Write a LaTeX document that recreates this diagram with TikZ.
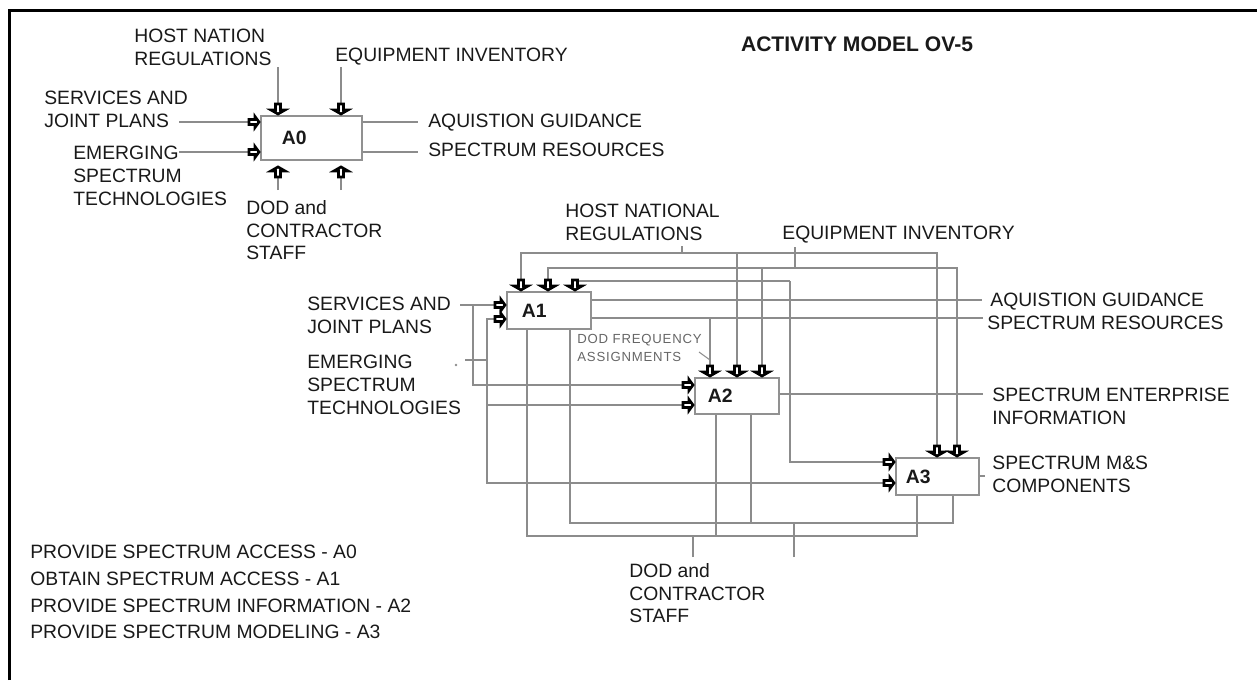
\documentclass[tikz,border=0pt]{standalone}
\usepackage{fontspec}
\setmainfont{Liberation Sans}
\newfontfamily\spacedfont{Liberation Sans}[LetterSpace=6]
\usetikzlibrary{calc,decorations.markings}

\definecolor{linegray}{RGB}{140,140,140}
\definecolor{boxgray}{RGB}{145,145,145}
\definecolor{textgray}{RGB}{25,25,25}
\newlength\pxunit
\setlength\pxunit{0.02cm}

\tikzset{
  lbl/.style={anchor=north west, inner sep=0pt, align=left, text=textgray,
    font=\fontsize{11}{12.9}\selectfont},
  procbox/.style={draw=boxgray, line width=1.1pt, fill=white, anchor=north west,
    inner ysep=0pt, align=left, text=textgray,
    font=\fontsize{11}{13}\selectfont\bfseries},
  flow/.style={draw=linegray, line width=1pt},
  blockhead/.style={flow, postaction={decorate, decoration={markings,
    mark=at position 1 with {\draw[black, line width=1.5pt, fill=white, line join=miter]
      (-1,0) -- (-5,#1) -- (-5,2.5) -- (-11,2.5) -- (-11,-2.5) -- (-5,-2.5) -- (-5,-#1) -- cycle;}}}},
  inp/.style={blockhead=5.5},
  ctl/.style={blockhead=7},
}

\begin{document}
\begin{tikzpicture}[x=0.02cm, y=-0.02cm]
\useasboundingbox (0,0) rectangle (1257,680);
\draw[line width=1.5pt] (9.5,680) -- (9.5,10.5) -- (1257,10.5);

% activity boxes
\node[procbox, minimum height=44\pxunit, inner xsep=21\pxunit, text width=59\pxunit] (a0) at (260,115) {A0};
\node[procbox, minimum height=37\pxunit, inner xsep=15\pxunit, text width=54\pxunit] (a1) at (506,291) {A1};
\node[procbox, minimum height=36\pxunit, inner xsep=13\pxunit, text width=58\pxunit] (a2) at (694,377) {A2};
\node[procbox, minimum height=37\pxunit, inner xsep=10\pxunit, text width=63\pxunit] (a3) at (895,457) {A3};

% labels, top level
\node[font=\fontsize{12}{14}\selectfont\bfseries, text=textgray] (title) at (857,44) {ACTIVITY MODEL OV-5};
\node[lbl] (hn0) at (134,29) {HOST NATION\\REGULATIONS};
\node[lbl] (eq0) at (335,48) {EQUIPMENT INVENTORY};
\node[lbl] (srv0) at (44,91) {SERVICES AND\\JOINT PLANS};
\node[lbl] (em0) at (73,146) {EMERGING\\SPECTRUM\\TECHNOLOGIES};
\node[lbl] (aq0) at (428,114) {AQUISTION GUIDANCE};
\node[lbl] (sr0) at (428,143) {SPECTRUM RESOURCES};
\node[lbl] (dod0) at (246,200) {DOD and\\CONTRACTOR\\STAFF};

% labels, decomposition
\node[lbl] (hn1) at (565,204) {HOST NATIONAL\\REGULATIONS};
\node[lbl] (eq1) at (782,226) {EQUIPMENT INVENTORY};
\node[lbl] (srv1) at (307,297) {SERVICES AND\\JOINT PLANS};
\node[lbl] (em1) at (307,355) {EMERGING\\SPECTRUM\\TECHNOLOGIES};
\node[lbl, font=\spacedfont\fontsize{7.5}{10.2}\selectfont, text=black!60] (dfa) at (577,334) {DOD FREQUENCY\\ASSIGNMENTS};
\node[lbl] (aq1) at (990,293) {AQUISTION GUIDANCE};
\node[lbl] (sr1) at (987,316) {SPECTRUM RESOURCES};
\node[lbl] (sei) at (992,388) {SPECTRUM ENTERPRISE\\INFORMATION};
\node[lbl] (msc) at (992,456) {SPECTRUM M\&S\\COMPONENTS};
\node[lbl] (dod1) at (629,563) {DOD and\\CONTRACTOR\\STAFF};
\node[lbl, font=\fontsize{11}{15.2}\selectfont] (legend) at (30,545)
  {PROVIDE SPECTRUM ACCESS - A0\\OBTAIN SPECTRUM ACCESS - A1\\PROVIDE SPECTRUM INFORMATION - A2\\PROVIDE SPECTRUM MODELING - A3};

% A0 connectors
\coordinate (hn0x) at (278,67);
\coordinate (eq0x) at (341,67);
\coordinate (srv0x) at (179,122);
\coordinate (em0x) at (179,152);
\coordinate (aq0x) at (418,122);
\coordinate (sr0x) at (418,152);
\coordinate (dod0a) at (278,190);
\coordinate (dod0b) at (341,190);
\draw[ctl] (hn0x) -- (hn0x |- a0.north);
\draw[ctl] (eq0x) -- (eq0x |- a0.north);
\draw[inp] (srv0x) -- (srv0x -| a0.west);
\draw[inp] (em0x) -- (em0x -| a0.west);
\draw[flow] (aq0x -| a0.east) -- (aq0x);
\draw[flow] (sr0x -| a0.east) -- (sr0x);
\draw[ctl] (dod0a) -- ([yshift=-5\pxunit]dod0a |- a0.south);
\draw[ctl] (dod0b) -- ([yshift=-5\pxunit]dod0b |- a0.south);

% controls of A1, A2, A3
\coordinate (hn1x) at (682,246);
\coordinate (hnbus) at (682,253);
\coordinate (eq1x) at (795,247);
\coordinate (eqbus) at (795,268);
\coordinate (fbk) at (790,281);
\draw[flow] (hn1x) -- (hnbus);
\draw[flow] (eq1x) -- (eqbus);
\draw[ctl] (hnbus) -| ([xshift=15\pxunit]a1.north west);
\draw[ctl] (hnbus) -| ([xshift=43\pxunit]a2.north west);
\draw[ctl] (hnbus) -| ([xshift=42\pxunit]a3.north west);
\draw[ctl] (eqbus) -| ([xshift=42\pxunit]a1.north west);
\draw[ctl] (eqbus) -| ([xshift=68\pxunit]a2.north west);
\draw[ctl] (eqbus) -| ([xshift=62\pxunit]a3.north west);
\draw[ctl] (fbk) -| ([xshift=69\pxunit]a1.north west);
\draw[inp] (fbk) |- ([yshift=-5\pxunit]a3.north west);

% inputs
\coordinate (srv1x) at (460,305);
\coordinate (srvbus) at (473,305);
\coordinate (em1x) at (465,360);
\coordinate (embus) at (487,360);
\draw[inp] (srv1x) -- ([yshift=-14\pxunit]a1.north west);
\draw[inp] (srvbus) |- ([yshift=-8\pxunit]a2.north west);
\draw[flow] (em1x) -- (embus);
\fill[linegray] (456,365) circle (0.8pt);
\draw[inp] (embus) |- ([yshift=-28\pxunit]a1.north west);
\draw[inp] (embus) |- ([yshift=-28\pxunit]a2.north west);
\draw[inp] (embus) |- ([yshift=-26\pxunit]a3.north west);

% outputs
\coordinate (aq1x) at (982,300);
\coordinate (sr1x) at (983,318);
\coordinate (seix) at (983,394);
\coordinate (dfax) at (699,352);
\draw[flow] ([yshift=-9\pxunit]a1.north east) -- (aq1x);
\draw[flow] ([yshift=-27\pxunit]a1.north east) -- (sr1x);
\draw[ctl] ([yshift=-27\pxunit]a1.north east) -| ([xshift=16\pxunit]a2.north west);
\draw[flow, line width=0.6pt] (dfax) -- ++(11,8);
\draw[flow] ([yshift=-17\pxunit]a2.north east) -- (seix);
\draw[flow] ([yshift=-19\pxunit]a3.north east) -- ++(5,0);

% mechanisms
\coordinate (dod1a) at (693,557);
\coordinate (dod1b) at (794,557);
\coordinate (mbusa) at (693,536);
\coordinate (mbusb) at (794,523);
\draw[flow] (dod1a) -- (mbusa);
\draw[flow] (dod1b) -- (mbusb);
\draw[flow] (mbusa) -| ([xshift=21\pxunit]a1.south west);
\draw[flow] (mbusa) -| ([xshift=22\pxunit]a2.south west);
\draw[flow] (mbusa) -| ([xshift=22\pxunit]a3.south west);
\draw[flow] (mbusb) -| ([xshift=64\pxunit]a1.south west);
\draw[flow] (mbusb) -| ([xshift=57\pxunit]a2.south west);
\draw[flow] (mbusb) -| ([xshift=58\pxunit]a3.south west);
\end{tikzpicture}
\end{document}
